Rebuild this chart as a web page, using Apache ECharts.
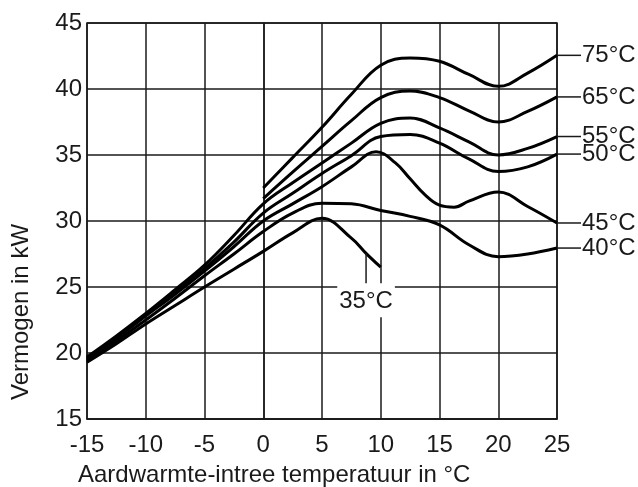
<!DOCTYPE html>
<html>
<head>
<meta charset="utf-8">
<script src="https://cdn.jsdelivr.net/npm/echarts@6/dist/echarts.min.js"></script>
<style>html,body{margin:0;padding:0;background:#fff}#c{width:638px;height:487px}</style>
</head>
<body>
<div id="c"></div>
<script>
// Data (x: source temperature °C, y: power kW)
const xTicks = [-15, -10, -5, 0, 5, 10, 15, 20, 25];
const yTicks = [15, 20, 25, 30, 35, 40, 45];

const s75 = [[0,32.5],[2.5,34.8],[5,37.1],[7.5,39.6],[10,41.8],[12.5,42.35],[15,42.1],[17.5,41.1],[20,40.2],[22.5,41.2],[25,42.55]];
const s65 = [[0,31.7],[2.5,33.7],[5,35.65],[7.5,37.6],[10,39.35],[12.5,39.85],[15,39.35],[17.5,38.35],[20,37.5],[22.5,38.3],[25,39.4]];
const s55 = [[-15,19.7],[-12.5,21.3],[-10,23.0],[-7.5,24.8],[-5,26.65],[-2.5,28.9],[0,31.3],[2.5,32.9],[5,34.4],[7.5,35.9],[10,37.4],[12.5,37.8],[15,37.05],[17.5,36.0],[20,35.0],[22.5,35.5],[25,36.4]];
const s50 = [[-15,19.6],[-12.5,21.2],[-10,22.9],[-7.5,24.6],[-5,26.4],[-2.5,28.4],[0,30.6],[2.5,32.1],[5,33.6],[7.5,34.95],[10,36.4],[12.5,36.55],[15,35.9],[17.5,34.7],[20,33.75],[22.5,34.1],[25,35.07]];
const s45 = [[-15,19.5],[-12.5,21.1],[-10,22.8],[-7.5,24.45],[-5,26.2],[-2.5,28.05],[0,30.0],[2.5,31.3],[5,32.6],[7.5,34.1],[9.6,35.25],[11.25,34.4],[12.5,33.2],[13.75,32.0],[15,31.2],[16.25,31.05],[17.5,31.5],[20,32.2],[22.5,31.1],[25,29.85]];
const s40 = [[-15,19.4],[-12.5,20.9],[-10,22.5],[-7.5,24.15],[-5,25.85],[-2.5,27.5],[0,29.2],[2.5,30.6],[5,31.35],[7.5,31.3],[10,30.8],[12.5,30.35],[15,29.7],[17.5,28.2],[20,27.3],[22.5,27.5],[25,27.95]];
const s35 = [[-15,19.3],[-12.5,20.7],[-10,22.2],[-7.5,23.6],[-5,25.0],[-2.5,26.35],[0,27.7],[2.5,29.1],[5,30.2],[7.5,28.7],[8.75,27.55],[10,26.5]];

const curveNames = ['75°C','65°C','55°C','50°C','45°C','40°C','35°C'];
const curveData = [s75, s65, s55, s50, s45, s40, s35];
const label35Index = 10; // point of the 35°C curve carrying its label

const FONT = 'Liberation Sans, Arial, sans-serif';
const INK = '#1a1a1a';
const FS = 24;

const chart = echarts.init(document.getElementById('c'), null, {renderer: 'canvas'});

const series = curveData.map((d, i) => {
  const name = curveNames[i];
  const is35 = name === '35°C';
  const data = d.map((p, j) => {
    if (is35 && j === label35Index) {
      return {
        value: p,
        label: {
          show: true,
          position: 'bottom',
          distance: 0,
          formatter: '{l|}\n{t|' + name + '}',
          rich: {
            l: {width: 1.5, height: 35, backgroundColor: INK},
            t: {fontSize: FS, fontFamily: FONT, color: INK, backgroundColor: '#fff', padding: [6, 2, 4, 2], lineHeight: FS}
          }
        }
      };
    }
    return p;
  });
  return {
    name: name,
    type: 'line',
    data: data,
    smooth: 0.4,
    showSymbol: true,
    symbol: 'circle',
    symbolSize: 0,
    silent: true,
    lineStyle: {color: '#000', width: 3},
    itemStyle: {color: '#000'},
    z: 3,
    endLabel: is35 ? {show: false} : {
      show: true,
      distance: 0,
      formatter: '{l|}{t|' + name + '}',
      rich: {
        l: {width: 24, height: 1.5, backgroundColor: INK},
        t: {fontSize: FS, fontFamily: FONT, color: INK, padding: [0, 0, 0, 1]}
      }
    }
  };
});

const option = {
  animation: false,
  backgroundColor: '#fff',
  grid: {left: 87, right: 81, top: 23, bottom: 68, show: true, borderColor: INK, borderWidth: 1.5},
  xAxis: {
    type: 'value', min: xTicks[0], max: xTicks[xTicks.length - 1], interval: 5,
    axisLine: {show: true, lineStyle: {color: INK, width: 1.5}},
    axisTick: {show: false},
    splitLine: {show: true, lineStyle: {color: INK, width: 1.5}},
    axisLabel: {fontSize: FS, fontFamily: FONT, color: INK, margin: 14}
  },
  yAxis: {
    type: 'value', min: yTicks[0], max: yTicks[yTicks.length - 1], interval: 5,
    axisLine: {show: true, lineStyle: {color: INK, width: 1.5}},
    axisTick: {show: false},
    splitLine: {show: true, lineStyle: {color: INK, width: 1.5}},
    axisLabel: {fontSize: FS, fontFamily: FONT, color: INK, margin: 5}
  },
  graphic: [
    {type: 'text', x: 78, y: 475, style: {text: 'Aardwarmte-intree temperatuur in °C', font: FS + 'px ' + FONT, fill: INK, align: 'left', verticalAlign: 'middle'}},
    {type: 'text', x: 21, y: 312, rotation: Math.PI / 2, style: {text: 'Vermogen in kW', font: FS + 'px ' + FONT, fill: INK, align: 'center', verticalAlign: 'middle'}}
  ],
  series: series
};
chart.setOption(option);
</script>
</body>
</html>
